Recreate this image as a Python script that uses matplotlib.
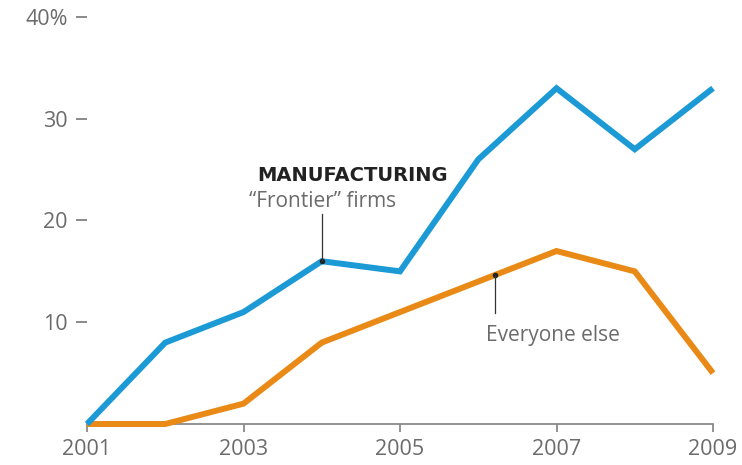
import matplotlib.pyplot as plt

# Share of firms, percent, by year
years = [2001, 2002, 2003, 2004, 2005, 2006, 2007, 2008, 2009]
frontier = [0, 8, 11, 16, 15, 26, 33, 27, 33]
everyone_else = [0, 0, 2, 8, 11, 14, 17, 15, 5]

x_ticks = [2001, 2003, 2005, 2007, 2009]
y_ticks = [10, 20, 30, 40]
y_labels = ["10", "20", "30", "40%"]

blue = "#1b9ad6"
orange = "#e98a17"
grey = "#6b6b6b"

plt.rcParams['font.family'] = ['Open Sans', 'DejaVu Sans']

fig = plt.figure(figsize=(7.42, 4.65), dpi=100)
ax = fig.add_axes([87 / 742, 41 / 465, 626 / 742, 407 / 465])

ax.plot(years, everyone_else, color=orange, lw=4.3, solid_capstyle='butt',
        solid_joinstyle='miter', clip_on=False, zorder=3)
ax.plot(years, frontier, color=blue, lw=4.3, solid_capstyle='butt',
        solid_joinstyle='miter', clip_on=False, zorder=4)

ax.set_xlim(2001, 2009)
ax.set_ylim(0, 40)

for side in ['top', 'right', 'left']:
    ax.spines[side].set_visible(False)
ax.spines['bottom'].set_color('#8a8a8a')
ax.spines['bottom'].set_linewidth(1.3)
ax.spines['bottom'].set_zorder(1)

ax.set_xticks(x_ticks)
ax.set_xticklabels([str(y) for y in x_ticks])
ax.set_yticks(y_ticks)
ax.set_yticklabels(y_labels)
ax.tick_params(axis='x', length=6, width=1.3, color='#8a8a8a', pad=5,
               labelsize=15.5, labelcolor=grey)
ax.tick_params(axis='y', length=8, width=1.1, color=grey, pad=6,
               labelsize=15.5, labelcolor=grey)

# Callout for the frontier series
ax.plot([2004], [16], 'o', color='#222222', ms=3, zorder=5)
ax.plot([2004, 2004], [16, 20.6], color='#333333', lw=0.9, zorder=5)
ax.text(2003.18, 23.9, "MANUFACTURING", fontsize=14, fontweight='bold',
        family='DejaVu Sans', color='#222222', ha='left', va='baseline')
ax.text(2003.07, 21.3, "\u201cFrontier\u201d firms", fontsize=15,
        color=grey, ha='left', va='baseline')

# Callout for everyone else
ax.plot([2006.21], [14.65], 'o', color='#222222', ms=3, zorder=5)
ax.plot([2006.21, 2006.21], [14.65, 10.9], color='#333333', lw=0.9, zorder=5)
ax.text(2006.1, 8.2, "Everyone else", fontsize=15, color=grey,
        ha='left', va='baseline')

fig.savefig("out.png", dpi=100)
